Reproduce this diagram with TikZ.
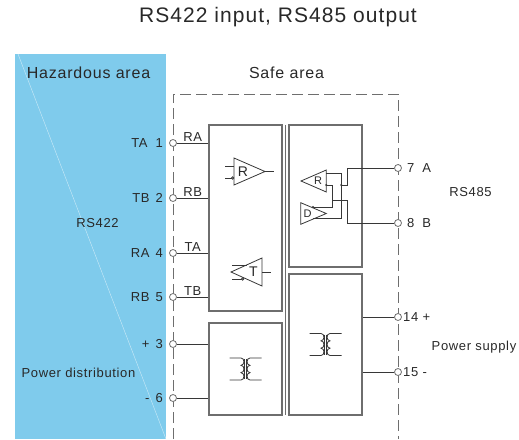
\documentclass[tikz,border=0pt]{standalone}
\usepackage{fontspec}
\setmainfont{Liberation Sans}[LetterSpace=5]
\usetikzlibrary{positioning}

\definecolor{hazblue}{RGB}{127,203,236}
\definecolor{txt}{RGB}{40,40,40}
\definecolor{boxgray}{RGB}{110,110,110}
\definecolor{wiregray}{RGB}{55,55,55}

\tikzset{
  term/.style={circle,draw=boxgray,fill=white,line width=0.8pt,inner sep=0pt,minimum size=7pt},
  block/.style={draw=boxgray,line width=1.2pt,inner sep=0pt},
  wire/.style={draw=wiregray,line width=0.9pt},
  safeline/.style={draw=boxgray,line width=1pt,dash pattern=on 11pt off 5pt},
  lbl/.style={text=txt,inner sep=0pt,font=\fontsize{13}{15}\selectfont},
  wlbl/.style={lbl,above=1pt},
  amp/.style={draw=wiregray,line width=0.8pt,line join=miter},
  dot/.style={fill=wiregray,circle,inner sep=0pt,minimum size=2.2pt},
  xfmr/.pic={
    \draw[amp] (-16,-11) -- (-4.5,-11)
      .. controls (-0.6,-11) and (-0.6,-3.67) .. (-4.5,-3.67)
      .. controls (-0.6,-3.67) and (-0.6,3.67) .. (-4.5,3.67)
      .. controls (-0.6,3.67) and (-0.6,11) .. (-4.5,11) -- (-16,11);
    \draw[amp] (16,-11) -- (4.5,-11)
      .. controls (0.6,-11) and (0.6,-3.67) .. (4.5,-3.67)
      .. controls (0.6,-3.67) and (0.6,3.67) .. (4.5,3.67)
      .. controls (0.6,3.67) and (0.6,11) .. (4.5,11) -- (16,11);
    \draw[amp] (-0.8,-10) -- (-0.8,10) (0.8,-10) -- (0.8,10);
  }
}

\begin{document}
\begin{tikzpicture}[x=1pt,y=-1pt]
    \useasboundingbox (0,0) rectangle (519,439);

    % Hazardous side
    \fill[hazblue] (15,54) rectangle (166,439);
    \draw[white,opacity=.6,line width=.4pt] (18,54) -- (166,439);

    \node[lbl,font=\fontsize{21}{24}\selectfont] (title) at (278,17) {RS422 input, RS485 output};
    \node[lbl,font=\fontsize{16}{19}\selectfont] (haz) at (88.5,73) {Hazardous area};
    \node[lbl,font=\fontsize{16}{19}\selectfont] (safe) at (286.5,73) {Safe area};

    % Safe area boundary
    \draw[safeline] (173,439) -- (173,94) -- (398,94) -- (398,439);

    % Blocks
    \node[block,minimum width=73pt,minimum height=186pt] (rxtx) at (245.5,218) {};
    \node[block,minimum width=73pt,minimum height=92pt] (pwrL) at (245.5,369) {};
    \node[block,minimum width=73pt,minimum height=142pt] (bus) at (325.5,196) {};
    \node[block,minimum width=73pt,minimum height=141pt] (pwrR) at (325.5,344.5) {};
    \draw[block] (285.5,125) -- (285.5,415);

    % Terminals
    \node[term] (t1) at (173,143) {};
    \node[term] (t2) at (173,198) {};
    \node[term] (t4) at (173,253) {};
    \node[term] (t5) at (173,297) {};
    \node[term] (t3) at (173,344) {};
    \node[term] (t6) at (173,398) {};
    \node[term] (t7) at (398,168) {};
    \node[term] (t8) at (398,223) {};
    \node[term] (t14) at (398,317) {};
    \node[term] (t15) at (398,372) {};

    \node[lbl,anchor=east] (l1) at (163,143) {TA\hspace{8pt}1};
    \node[lbl,anchor=east] (l2) at (163,198) {TB\hspace{6pt}2};
    \node[lbl,anchor=east] (l4) at (163,253) {RA\hspace{6pt}4};
    \node[lbl,anchor=east] (l5) at (163,297) {RB\hspace{6pt}5};
    \node[lbl,anchor=east] (l3) at (163,344) {+\hspace{6pt}3};
    \node[lbl,anchor=east] (l6) at (163,398) {-\hspace{6pt}6};
    \node[lbl,anchor=west] (l7) at (407,168) {7\hspace{8pt}A};
    \node[lbl,anchor=west] (l8) at (407,223) {8\hspace{8pt}B};
    \node[lbl,anchor=west] (l14) at (403,317) {14 +};
    \node[lbl,anchor=west] (l15) at (403,372) {15 -};

    \node[lbl] (rs422) at (97.5,223) {RS422};
    \node[lbl] (pdist) at (78.5,373) {Power distribution};
    \node[lbl] (rs485) at (470.5,192) {RS485};
    \node[lbl] (psup) at (474,347) {Power supply};

    % Wires into the isolator
    \draw[wire] (t1) -- node[wlbl]{RA} (t1 -| rxtx.west);
    \draw[wire] (t2) -- node[wlbl]{RB} (t2 -| rxtx.west);
    \draw[wire] (t4) -- node[wlbl]{TA} (t4 -| rxtx.west);
    \draw[wire] (t5) -- node[wlbl]{TB} (t5 -| rxtx.west);
    \draw[wire] (t3) -- (t3 -| pwrL.west);
    \draw[wire] (t6) -- (t6 -| pwrL.west);
    \draw[wire] (t14) -- (t14 -| pwrR.east);
    \draw[wire] (t15) -- (t15 -| pwrR.east);

    % Receiver and driver, hazardous side
    \draw[amp] (234,158) -- (265,171.5) -- (234,185) -- cycle;
    \node[lbl,font=\fontsize{14}{16}\selectfont] (rxL) at (243,172) {R};
    \draw[amp] (225,166) -- (234,166) (225,178) -- (231.5,178) (265,171.5) -- (274,171.5);
    \draw[amp,fill=white] (232.7,178) circle (1.2);
    \draw[amp] (231,272) -- (262,258) -- (262,286) -- cycle;
    \node[lbl,font=\fontsize{14}{16}\selectfont] (txL) at (253.5,272) {T};
    \draw[amp] (262,272) -- (271,272) (232,265) -- (247,265) (232,279) -- (241.5,279);
    \draw[amp,fill=white] (242.7,279) circle (1.2);

    % Transceiver, safe side
    \draw[amp] (301,181) -- (326.3,170) -- (326.3,192) -- cycle;
    \node[lbl,font=\fontsize{11}{13}\selectfont] (rxR) at (318,181) {R};
    \draw[amp] (300.7,202.7) -- (326.3,213.5) -- (300.7,224.3) -- cycle;
    \node[lbl,font=\fontsize{11}{13}\selectfont] (txR) at (307.5,213.5) {D};
    \node[dot] (ja) at (341.3,185) {};
    \node[dot] (jb) at (326.3,185) {};
    \node[dot] (jc) at (313,207) {};
    \draw[wire] (t7) -| (347.3,185) -- (ja.center);
    \draw[wire] (326.3,173.3) -| (341.3,218.5) -- (313,218.5);
    \draw[wire] (jb.center) -| (332,207) -- (jc.center);
    \draw[wire] (332,200.7) -| (347.3,223) -- (t8);

    % Isolating transformers
    \pic at (pwrL.center) {xfmr};
    \pic at (pwrR.center) {xfmr};
\end{tikzpicture}
\end{document}
